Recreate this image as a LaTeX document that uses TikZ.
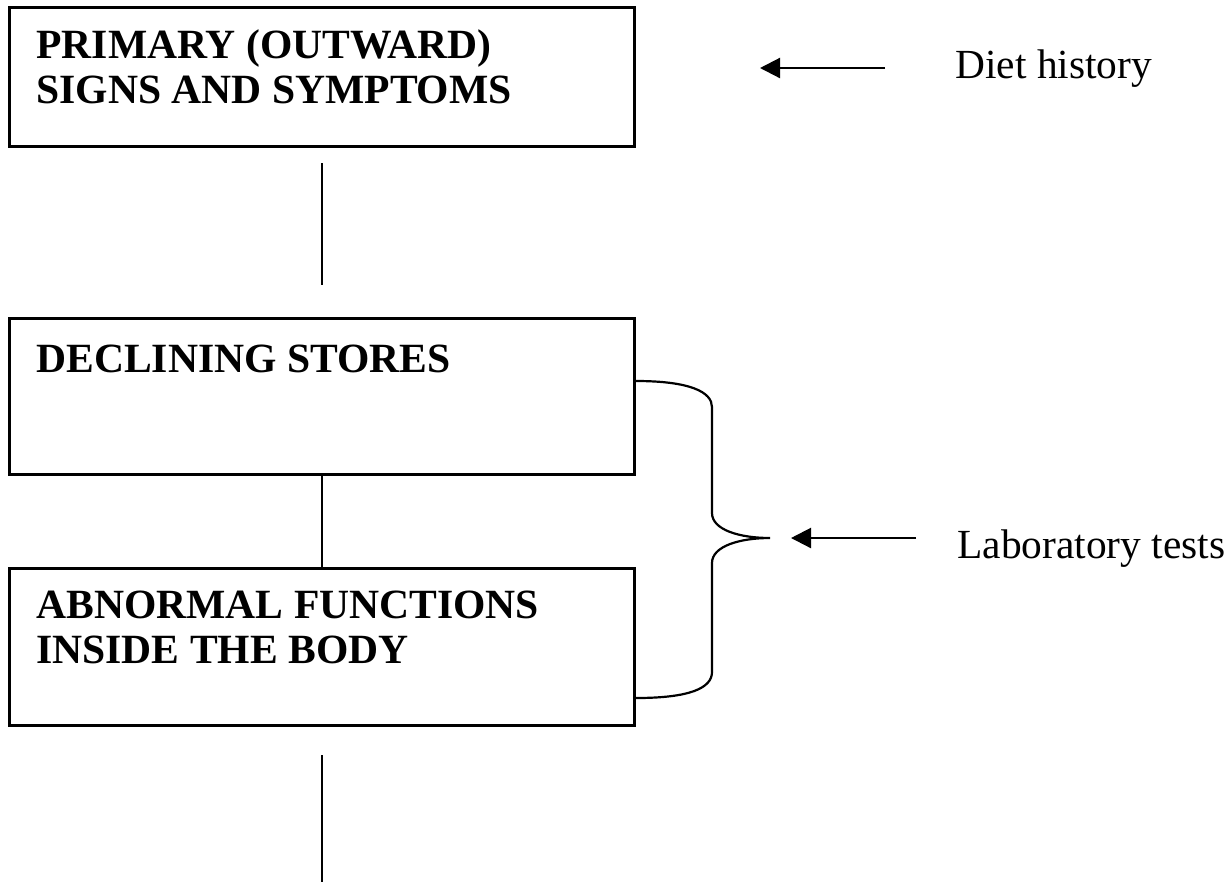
\documentclass[tikz,border=0pt]{standalone}
\usepackage{fontspec}
\setmainfont{Liberation Serif}
\usetikzlibrary{arrows.meta}
\tikzset{
  box/.style={draw, line width=1.5pt, rectangle, inner sep=0pt, outer sep=0pt, minimum width=312.5pt},
  boxtext/.style={anchor=base west, inner sep=0pt, align=left, font=\fontsize{20.8pt}{22.5pt}\selectfont\bfseries},
  sidetext/.style={anchor=base west, inner sep=0pt, font=\fontsize{20.7pt}{22.5pt}\selectfont},
  conn/.style={line width=1pt},
  arr/.style={line width=1.1pt, -{Triangle[length=10pt,width=10pt]}},
  bracestyle/.style={line width=1.1pt}
}
\begin{document}
\begin{tikzpicture}[x=0.5pt,y=-0.5pt]
\useasboundingbox (0,0) rectangle (1231,890);
% boxes
\node[box, minimum height=69.5pt] (b1) at (321.5,76.5) {};
\node[box, minimum height=78pt] (b2) at (321.5,396) {};
\node[box, minimum height=78.5pt] (b3) at (321.5,646.5) {};
% box texts (anchor at baseline of last line)
\node[boxtext] (t1) at (36,103) {PRIMARY (OUTWARD)\\SIGNS AND SYMPTOMS};
\node[boxtext] (t2) at (36,372) {DECLINING STORES};
\node[boxtext] (t3) at (36,663) {ABNORMAL FUNCTIONS\\INSIDE THE BODY};
% vertical lines
\coordinate (l1a) at (322,163);
\coordinate (l1b) at (322,285);
\coordinate (l3a) at (322,755);
\coordinate (l3b) at (322,882);
\draw[conn] (l1a) -- (l1b);
\draw[conn] (b2.south) -- (b3.north);
\draw[conn] (l3a) -- (l3b);
% side labels
\node[sidetext] (diet) at (955,78) {Diet history};
\node[sidetext] (lab) at (957,558) {Laboratory tests};
% arrows
\coordinate (a1tail) at (885,68);
\coordinate (a1tip) at (760,68);
\draw[arr] (a1tail) -- (a1tip);
\coordinate (brtip) at (770,538);
\coordinate (a2tail) at (916,538);
\coordinate (a2tip) at (791,538);
\draw[arr] (a2tail) -- (a2tip);
% brace
\coordinate (brtop) at (636,381);
\coordinate (brbot) at (636,698);
\draw[bracestyle] (brtop) .. controls (690,381) and (712,392) .. (712,407)
  -- (712,513) .. controls (712,530) and (740,538) .. (brtip)
  .. controls (740,538) and (712,546) .. (712,563)
  -- (712,672) .. controls (712,688) and (690,698) .. (brbot);
\end{tikzpicture}
\end{document}
